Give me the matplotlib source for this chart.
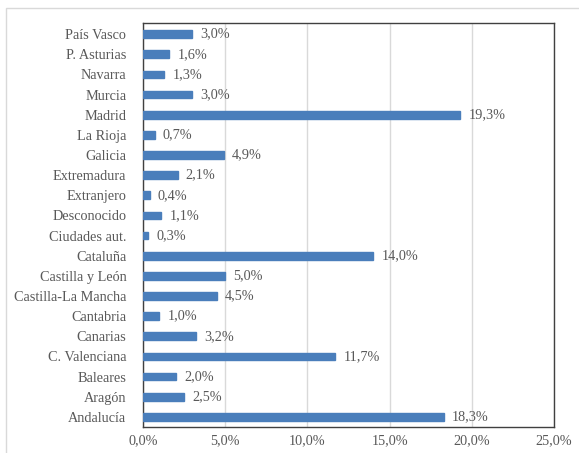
import matplotlib
matplotlib.use("Agg")
import matplotlib.pyplot as plt
from matplotlib.patches import Rectangle

categories = ["Andalucía", "Aragón", "Baleares", "C. Valenciana", "Canarias", "Cantabria",
              "Castilla-La Mancha", "Castilla y León", "Cataluña", "Ciudades aut.",
              "Desconocido", "Extranjero", "Extremadura", "Galicia", "La Rioja", "Madrid",
              "Murcia", "Navarra", "P. Asturias", "País Vasco"]
values = [18.3, 2.5, 2.0, 11.7, 3.2, 1.0, 4.5, 5.0, 14.0, 0.3,
          1.1, 0.4, 2.1, 4.9, 0.7, 19.3, 3.0, 1.3, 1.6, 3.0]
xticks = [0, 5, 10, 15, 20, 25]

plt.rcParams['font.family'] = ['Liberation Serif', 'DejaVu Serif']
txt = '#595959'

W, H = 579, 453
fig = plt.figure(figsize=(W/100, H/100), dpi=100)
fig.patches.append(Rectangle((6/W, -0.1), 1.2, (H-8)/H + 0.1, transform=fig.transFigure,
                             fill=False, edgecolor='#d9d9d9', linewidth=1.0))
ax = fig.add_axes([143/W, 1-427/H, (554-143)/W, (427-23)/H])

y = list(range(len(categories)))
ax.barh(y, values, height=0.38, color='#4a7ebb', edgecolor='#4a7ebb', zorder=3)
for yi, v in zip(y, values):
    ax.text(v + 0.5, yi, f"{v:.1f}%".replace('.', ','), va='center', ha='left',
            fontsize=10.3, color=txt)

ax.set_xlim(0, 25)
ax.set_ylim(-0.5, 19.55)
ax.set_yticks(y)
ax.set_yticklabels(categories, fontsize=10.3, color=txt)
ax.set_xticks(xticks)
ax.set_xticklabels([f"{t:.1f}%".replace('.', ',') for t in xticks], fontsize=10.3, color=txt)
ax.tick_params(axis='both', length=0)
ax.tick_params(axis='y', pad=12)
ax.tick_params(axis='x', pad=5)
ax.grid(axis='x', color='#d9d9d9', linewidth=1.0, zorder=0)
for s in ax.spines.values():
    s.set_color('#404040')
    s.set_linewidth(1.0)

fig.savefig("out.png", dpi=100)
